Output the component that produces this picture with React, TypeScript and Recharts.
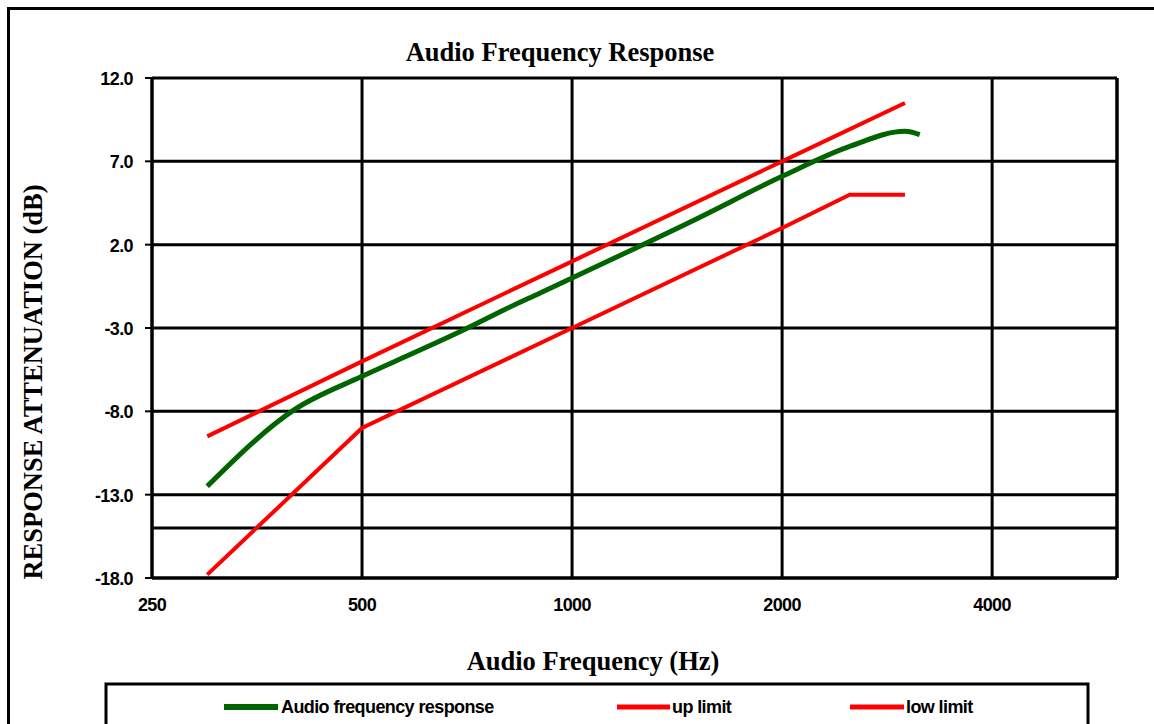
import React from "react";
import { LineChart, Line, XAxis, YAxis, CartesianGrid, ReferenceLine } from "recharts";

// Frequencies (Hz) and values (dB)
const responseFreq = [300, 400, 500, 600, 700, 800, 900, 1000, 1500, 2000, 2500, 3000, 3150];
const responseDb = [-12.5, -7.9, -5.9, -4.4, -3.1, -1.9, -0.9, 0.0, 3.5, 6.1, 7.9, 8.8, 8.6];

const upFreq = [300, 500, 1000, 2000, 3000];
const upDb = [-9.5, -5.0, 1.0, 7.0, 10.5];

const lowFreq = [300, 500, 1000, 2000, 2500, 3000];
const lowDb = [-17.8, -9.0, -3.0, 3.0, 5.0, 5.0];

const xTicks = [250, 500, 1000, 2000, 4000];
const yTicks = [-18, -13, -8, -3, 2, 7, 12];
const xDomain = [250, 6040];
const yDomain = [-18, 12];

const title = "Audio Frequency Response";
const xLabel = "Audio Frequency (Hz)";
const yLabel = "RESPONSE ATTENUATION (dB)";
const legendNames = ["Audio frequency response", "up limit", "low limit"];

const zip = (fs: number[], vs: number[]) => fs.map((f, i) => ({ f, v: vs[i] }));
const responseData = zip(responseFreq, responseDb);
const upData = zip(upFreq, upDb);
const lowData = zip(lowFreq, lowDb);

const GREEN = "#006400";
const RED = "#ff0000";
const SANS = "'Liberation Sans', Arial, sans-serif";
const SERIF = "'Liberation Serif', 'Times New Roman', serif";

const XTick = (props: any) => {
  const { x, y, payload } = props;
  return (
    <text x={x} y={y} dy={33} textAnchor="middle" fontFamily={SANS} fontWeight="bold" fontSize={18} letterSpacing={-0.6} fill="#000">
      {payload.value}
    </text>
  );
};

const YTick = (props: any) => {
  const { x, y, payload } = props;
  return (
    <text x={x} y={y} dy={7} textAnchor="end" fontFamily={SANS} fontWeight="bold" fontSize={18} letterSpacing={-0.6} fill="#000">
      {Number(payload.value).toFixed(1)}
    </text>
  );
};

export default function App() {
  return (
    <div style={{ position: "absolute", left: 0, top: 0, width: 1154, height: 724, overflow: "hidden", background: "#fff" }}>
      <div style={{ position: "absolute", left: 7, top: 7, width: 2000, height: 2000, borderLeft: "3px solid #000", borderTop: "3px solid #000" }} />
      <div style={{ position: "absolute", left: 0, top: 0 }}>
        <LineChart width={1154} height={724} margin={{ top: 78, right: 37, bottom: 116, left: 92 }}>
          <CartesianGrid stroke="#000" strokeWidth={3} />
          <XAxis
            dataKey="f"
            type="number"
            scale="log"
            domain={xDomain}
            ticks={xTicks}
            allowDataOverflow
            height={30}
            tickSize={0}
            tickMargin={0}
            tickLine={false}
            axisLine={{ stroke: "#000", strokeWidth: 3 }}
            tick={<XTick />}
            interval={0}
          />
          <YAxis
            type="number"
            domain={yDomain}
            ticks={yTicks}
            allowDataOverflow
            width={60}
            tickSize={7}
            tickMargin={12}
            tickLine={{ stroke: "#000", strokeWidth: 2 }}
            axisLine={{ stroke: "#000", strokeWidth: 3 }}
            tick={<YTick />}
            interval={0}
          />
          <ReferenceLine y={-15} stroke="#000" strokeWidth={3} />
          <ReferenceLine x={xDomain[1]} stroke="#000" strokeWidth={3} />
          <Line data={upData} dataKey="v" type="linear" stroke={RED} strokeWidth={4} dot={false} activeDot={false} isAnimationActive={false} />
          <Line data={lowData} dataKey="v" type="linear" stroke={RED} strokeWidth={4} dot={false} activeDot={false} isAnimationActive={false} />
          <Line data={responseData} dataKey="v" type="monotone" stroke={GREEN} strokeWidth={5} dot={false} activeDot={false} isAnimationActive={false} />
        </LineChart>
      </div>
      <svg width={1154} height={724} style={{ position: "absolute", left: 0, top: 0, pointerEvents: "none" }}>
        <text x={560} y={61} textAnchor="middle" fontFamily={SERIF} fontWeight="bold" fontSize={26.5} fill="#000">{title}</text>
        <text x={593} y={670} textAnchor="middle" fontFamily={SERIF} fontWeight="bold" fontSize={26.5} fill="#000">{xLabel}</text>
        <text transform="translate(42,382) rotate(-90)" textAnchor="middle" fontFamily={SERIF} fontWeight="bold" fontSize={26.5} fill="#000">{yLabel}</text>
        <rect x={106} y={684} width={982} height={100} fill="none" stroke="#000" strokeWidth={3} />
        <line x1={224} x2={278} y1={707} y2={707} stroke={GREEN} strokeWidth={6} />
        <text x={281} y={713} fontFamily={SANS} fontWeight="bold" fontSize={18} letterSpacing={-0.6} fill="#000">{legendNames[0]}</text>
        <line x1={617} x2={670} y1={707} y2={707} stroke={RED} strokeWidth={5} />
        <text x={672} y={713} fontFamily={SANS} fontWeight="bold" fontSize={18} letterSpacing={-0.6} fill="#000">{legendNames[1]}</text>
        <line x1={850} x2={904} y1={707} y2={707} stroke={RED} strokeWidth={5} />
        <text x={906} y={713} fontFamily={SANS} fontWeight="bold" fontSize={18} letterSpacing={-0.6} fill="#000">{legendNames[2]}</text>
      </svg>
    </div>
  );
}
